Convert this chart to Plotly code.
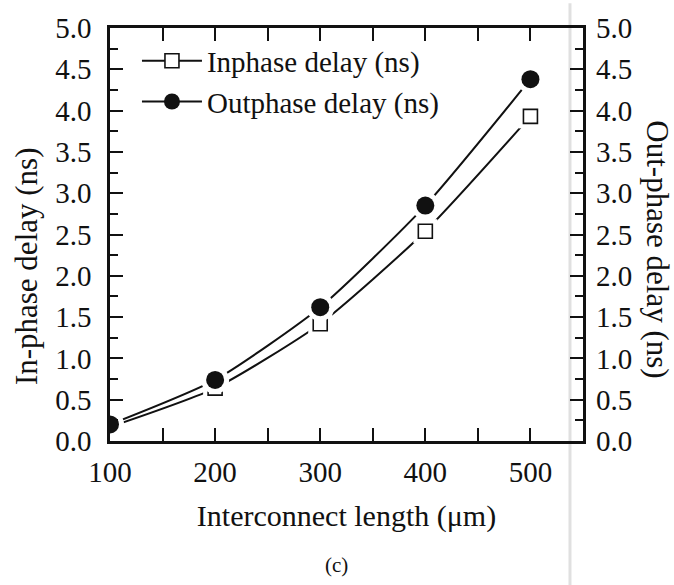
import plotly.graph_objects as go

length_um = [100, 200, 300, 400, 500]
inphase_ns = [0.17, 0.64, 1.42, 2.54, 3.93]
outphase_ns = [0.20, 0.74, 1.62, 2.85, 4.38]
x_ticks = [100, 200, 300, 400, 500]
y_ticks = [0.0, 0.5, 1.0, 1.5, 2.0, 2.5, 3.0, 3.5, 4.0, 4.5, 5.0]
y_ticktext = [f"{v:.1f}" for v in y_ticks]

FONT = "Liberation Serif, Times New Roman, serif"
INK = "#111111"

fig = go.Figure()

# Inphase (left axis)
fig.add_trace(go.Scatter(
    x=length_um, y=inphase_ns, name="Inphase delay (ns)", mode="lines+markers",
    line=dict(color=INK, width=2, shape="spline", smoothing=0.6),
    marker=dict(symbol="square", size=14, color="white", line=dict(color=INK, width=1.6)),
    legendgroup="in", yaxis="y"))
fig.add_trace(go.Scatter(
    x=length_um, y=inphase_ns, mode="markers", showlegend=False, hoverinfo="skip",
    marker=dict(symbol="square", size=24, color="white"), legendgroup="in", yaxis="y"))
fig.add_trace(go.Scatter(
    x=length_um, y=inphase_ns, mode="markers", showlegend=False,
    marker=dict(symbol="square", size=14, color="white", line=dict(color=INK, width=1.6)),
    legendgroup="in", yaxis="y"))

# Outphase (right axis)
fig.add_trace(go.Scatter(
    x=length_um, y=outphase_ns, name="Outphase delay (ns)", mode="lines+markers",
    line=dict(color=INK, width=2, shape="spline", smoothing=0.6),
    marker=dict(symbol="circle", size=18, color=INK),
    legendgroup="out", yaxis="y2"))
fig.add_trace(go.Scatter(
    x=length_um, y=outphase_ns, mode="markers", showlegend=False, hoverinfo="skip",
    marker=dict(symbol="circle", size=28, color="white"), legendgroup="out", yaxis="y2"))
fig.add_trace(go.Scatter(
    x=length_um, y=outphase_ns, mode="markers", showlegend=False,
    marker=dict(symbol="circle", size=18, color=INK), legendgroup="out", yaxis="y2"))

tickfont = dict(family=FONT, size=29, color=INK)

fig.update_layout(
    width=674, height=585,
    margin=dict(l=110, r=91, t=21, b=144),
    paper_bgcolor="white", plot_bgcolor="white",
    font=dict(family=FONT, color=INK),
    showlegend=True,
    legend=dict(x=0.057, y=0.982, xanchor="left", yanchor="top",
                bgcolor="rgba(0,0,0,0)", font=dict(family=FONT, size=29, color=INK),
                itemwidth=60, tracegroupgap=0),
    xaxis=dict(range=[100, 550], tickvals=x_ticks, ticks="inside", ticklen=13, tickwidth=2,
               tickcolor=INK, showline=True, linewidth=2.5, linecolor=INK, mirror="allticks",
               showgrid=False, zeroline=False, tickfont=tickfont, ticklabelstandoff=3,
               minor=dict(dtick=50, ticks="inside", ticklen=8, tickwidth=2, tickcolor=INK),
               title=dict(text="Interconnect length (\u03bcm)", font=dict(family=FONT, size=30, color=INK),
                          standoff=19)),
    yaxis=dict(range=[0, 5], tickvals=y_ticks, ticktext=y_ticktext, ticks="inside", ticklen=13,
               tickwidth=2, tickcolor=INK, showline=True, linewidth=2.5, linecolor=INK,
               mirror=True, showgrid=False, zeroline=False, tickfont=tickfont,
               ticklabelstandoff=10,
               minor=dict(dtick=0.25, ticks="inside", ticklen=8, tickwidth=2, tickcolor=INK)),
    yaxis2=dict(range=[0, 5], overlaying="y", side="right", tickvals=y_ticks, ticktext=y_ticktext,
                ticks="inside", ticklen=13, tickwidth=2, tickcolor=INK, showline=False,
                showgrid=False, zeroline=False, tickfont=tickfont, ticklabelstandoff=12,
                minor=dict(dtick=0.25, ticks="inside", ticklen=8, tickwidth=2, tickcolor=INK)),
)

fig.add_annotation(text="In-phase delay (ns)", xref="paper", yref="paper",
                   x=-0.175, y=0.424, xanchor="center", yanchor="middle", textangle=-90,
                   showarrow=False, font=dict(family=FONT, size=31, color=INK))
fig.add_annotation(text="Out-phase delay (ns)", xref="paper", yref="paper",
                   x=1.1586, y=0.464, xanchor="center", yanchor="middle", textangle=90,
                   showarrow=False, font=dict(family=FONT, size=31, color=INK))
fig.add_annotation(text="(c)", xref="paper", yref="paper",
                   x=0.478, y=-0.30, xanchor="center", yanchor="middle",
                   showarrow=False, font=dict(family=FONT, size=21, color=INK))

# faint scan edge line
fig.add_shape(type="line", xref="paper", yref="paper", x0=0.9725, x1=0.9725, y0=-0.35, y1=1.06,
              line=dict(color="#e0e0e0", width=3), layer="below")

fig.write_html("out.html")
